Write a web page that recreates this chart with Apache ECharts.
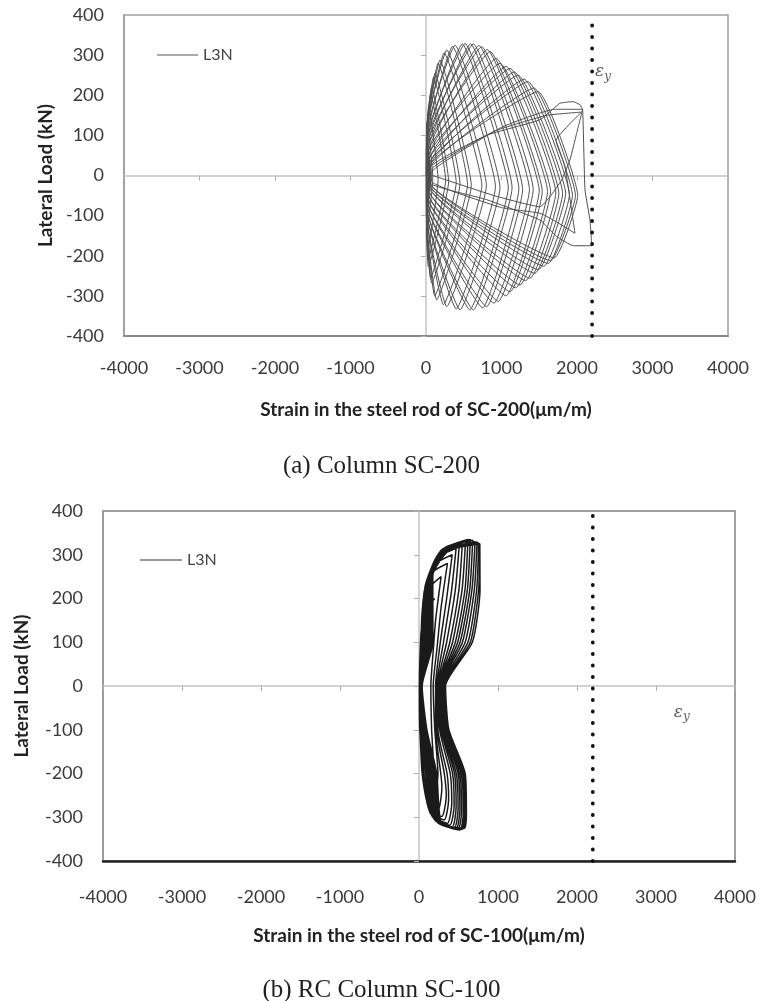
<!DOCTYPE html>
<html>
<head>
<meta charset="utf-8">
<script src="https://cdn.jsdelivr.net/npm/echarts@6/dist/echarts.min.js"></script>
<style>
html,body{margin:0;padding:0;background:#fff;}
#chart{width:763px;height:1001px;}
</style>
</head>
<body>
<div id="chart"></div>
<script>
// ---------- data ----------
const xTicks = [-4000, 4000, 1000];      // min, max, interval (strain, µm/m)
const yTicks = [-400, 400, 100];         // min, max, interval (kN)
const yieldStrain = [2200, 2200];        // εy vertical line (µm/m)
const yieldLoad = [-400, 400];

// SC-200 : [strain (µm/m), lateral load (kN)], traced cycle by cycle
const sc200Path = [
  [0,0],[35,175],[160,-10],[25,-185],[5,-90],[5,90],
  [20,130],[90,-5],[15,-140],[3,-60],[3,60],
  [75,221],[300,-15],[31,-227],[8,-110],[8,110],
  [60,205],[260,-12],[25,-210],[6,-100],[6,100],
  [119,255],[450,-20],[75,-268],[10,-120],[10,120],
  [100,245],[400,-18],[60,-255],[9,-115],[9,115],
  [185,288],[600,-25],[141,-310],[12,-120],[12,120],
  [160,280],[550,-22],[115,-300],[11,-120],[11,120],
  [274,313],[800,-25],[274,-327],[15,-110],[15,110],
  [240,306],[740,-25],[230,-322],[14,-110],[14,110],
  [384,325],[980,-30],[450,-335],[18,-100],[18,100],
  [350,322],[920,-28],[400,-333],[17,-100],[17,100],
  [517,329],[1140,-30],[627,-335],[20,-90],[20,90],
  [480,328],[1090,-30],[580,-335],[20,-90],[20,90],
  [627,328],[1280,-35],[803,-327],[25,-80],[25,80],
  [590,328],[1230,-33],[750,-330],[24,-80],[24,80],
  [737,321],[1420,-35],[957,-314],[30,-70],[30,70],
  [700,324],[1370,-35],[900,-318],[28,-70],[28,70],
  [848,309],[1540,-40],[1113,-290],[35,-60],[35,60],
  [810,314],[1500,-38],[1060,-300],[33,-60],[33,60],
  [980,280],[1650,-40],[1245,-273],[40,-50],[40,50],
  [930,292],[1610,-40],[1190,-280],[38,-50],[38,50],
  [1113,267],[1760,-45],[1377,-256],[45,-40],[45,40],
  [1060,272],[1720,-43],[1320,-262],[43,-40],[43,40],
  [1219,250],[1850,-45],[1488,-235],[50,-30],[50,30],
  [1170,258],[1810,-45],[1440,-244],[48,-30],[48,30],
  [1351,234],[1940,-50],[1620,-219],[55,-25],[55,25],
  [1300,240],[1900,-48],[1560,-226],[53,-25],[53,25],
  [1483,209],[2010,-50],[1700,-205],[60,-20],[60,20],
  [1430,218],[1980,-50],[1650,-212],[58,-20],[58,20],
  [800,100],[1510,139],[1775,180],[1950,184],[2040,176],[2075,163],
  [2106,-36],[2172,-111],[2195,-175],[1950,-175],[1731,-152],[1510,-111],[800,-60],[65,-20],[70,15],
  [900,110],[1600,150],[2060,158],[1722,87],[1841,22],[1973,-144],[1687,-111],[1510,-94],[1000,-80],[75,-15],[80,10],
  [1000,120],[1700,165],[2075,165],[1995,105],[1907,39],[1797,-11],[1642,-53],[1510,-78],[900,-50],[90,0]
];

// SC-100 : [strain (µm/m), lateral load (kN)], traced cycle by cycle
const sc100Path = [
  [200,200],[90,175],[30,130],[15,80],[5,0],[10,-100],[60,-180],[150,-210],[180,-170],[160,-100],[150,0],[180,80],[210,150],
  [280,250],[130,225],[45,180],[25,100],[8,0],[12,-100],[50,-200],[200,-250],[240,-200],[200,-100],[180,0],[230,90],[280,180],
  [360,280],[170,260],[55,200],[30,100],[10,0],[15,-100],[40,-200],[110,-270],[240,-285],[290,-230],[210,-100],[210,0],[270,100],[350,200],
  [420,300],[200,278],[65,215],[40,100],[12,0],[18,-100],[50,-200],[125,-282],[290,-298],[345,-250],[320,-200],[225,-100],[225,0],[310,100],[410,215],
  [470,315],[220,292],[75,225],[55,100],[14,0],[25,-100],[65,-200],[140,-290],[320,-306],[375,-258],[355,-200],[240,-100],[238,0],[350,100],[460,220],
  [510,322],[240,300],[85,230],[65,100],[16,0],[35,-100],[85,-200],[160,-296],[360,-314],[415,-266],[395,-200],[262,-100],[250,0],[390,100],[505,220],
  [550,328],[260,305],[95,235],[80,100],[18,0],[42,-100],[100,-200],[175,-300],[390,-318],[445,-272],[425,-200],[278,-100],[258,0],[425,100],[545,220],
  [590,333],[280,310],[105,237],[92,100],[20,0],[50,-100],[115,-200],[190,-304],[420,-322],[470,-276],[450,-200],[292,-100],[266,0],[460,100],[582,220],
  [620,335],[295,312],[115,240],[102,100],[23,0],[56,-100],[128,-200],[200,-306],[445,-325],[495,-280],[472,-200],[305,-100],[274,0],[490,100],[612,220],
  [650,335],[310,314],[125,242],[112,100],[26,0],[62,-100],[142,-200],[212,-308],[468,-327],[518,-283],[495,-200],[318,-100],[282,0],[520,100],[642,220],
  [680,333],[325,314],[135,244],[122,100],[28,0],[68,-100],[156,-200],[225,-310],[490,-328],[540,-286],[515,-200],[330,-100],[290,0],[550,100],[670,220],
  [710,330],[340,312],[145,246],[135,100],[31,0],[76,-100],[172,-200],[240,-311],[515,-329],[562,-289],[535,-200],[342,-100],[300,0],[585,100],[700,220],
  [735,329],[355,311],[155,248],[148,100],[34,0],[84,-100],[190,-200],[255,-312],[535,-328],[580,-290],[555,-200],[354,-100],[312,0],[620,100],[730,220],
  [755,327],[365,310],[165,250],[162,100],[37,0],[92,-100],[208,-200],[270,-313],[555,-327],[592,-290],[572,-200],[366,-100],[324,0],[650,100],[755,220],
  [770,325],[375,309],[175,252],[176,100],[40,0],[100,-100],[225,-200],[285,-314],[575,-325],[600,-290],[585,-200],[378,-100],[336,0],[675,100],[772,220],[770,325]
];

const seriesName = 'L3N';
const xTitles = ['Strain in the steel rod of SC-200(\u03bcm/m)', 'Strain in the steel rod of SC-100(\u03bcm/m)'];
const yTitle = 'Lateral Load (kN)';
const captions = ['(a) Column SC-200', '(b) RC Column SC-100'];
const yieldText = ['{e|\u03b5}{s|y}'];
const yieldLabelLoad = [258, -60];

// ---------- chart ----------
const chart = echarts.init(document.getElementById('chart'), null, {renderer: 'canvas'});
const tickFont = {fontFamily: 'Lato', fontSize: 18, color: '#3a3a3a'};
const titleFont = {fontFamily: 'Lato', fontWeight: 'bold', fontSize: 19, color: '#222'};
const plain = v => String(v);

function xAxes(g, labelMargin, nameGap, bottomColor, bottomWidth) {
  return [
    {gridIndex: g, type: 'value', min: xTicks[0], max: xTicks[1], interval: xTicks[2], position: 'bottom',
     axisLine: {show: true, onZero: false, lineStyle: {color: bottomColor, width: bottomWidth}},
     axisTick: {show: false}, splitLine: {show: false},
     axisLabel: Object.assign({margin: labelMargin, formatter: plain}, tickFont),
     name: xTitles[g], nameLocation: 'middle', nameGap: nameGap, nameTextStyle: titleFont},
    {gridIndex: g, type: 'value', min: xTicks[0], max: xTicks[1], interval: xTicks[2], position: 'bottom',
     axisLine: {show: true, onZero: true, lineStyle: {color: '#c4c4c4', width: 1.5}},
     axisTick: {show: true, inside: false, length: 5, lineStyle: {color: '#b0b0b0', width: 1}},
     axisLabel: {show: false}, splitLine: {show: false}}
  ];
}
function yAxes(g, nameGap) {
  return [
    {gridIndex: g, type: 'value', min: yTicks[0], max: yTicks[1], interval: yTicks[2], position: 'left',
     axisLine: {show: true, onZero: false, lineStyle: {color: '#9a9a9a', width: 1.5}},
     axisTick: {show: false}, splitLine: {show: false},
     axisLabel: Object.assign({margin: 20, formatter: plain}, tickFont),
     name: yTitle, nameLocation: 'middle', nameGap: nameGap, nameRotate: 90, nameTextStyle: titleFont},
    {gridIndex: g, type: 'value', min: yTicks[0], max: yTicks[1], interval: yTicks[2], position: 'left',
     axisLine: {show: true, onZero: true, lineStyle: {color: '#c4c4c4', width: 1.5}},
     axisTick: {show: true, inside: false, length: 5, lineStyle: {color: '#b0b0b0', width: 1}},
     axisLabel: {show: false}, splitLine: {show: false}}
  ];
}

const yieldRich = {
  e: {fontFamily: 'DejaVu Serif', fontStyle: 'italic', fontSize: 17, color: '#333'},
  s: {fontFamily: 'DejaVu Serif', fontStyle: 'italic', fontSize: 12, color: '#333', padding: [10, 0, 0, 0]}
};

function pairs(xs, ys) { return xs.map((x, i) => [x, ys[i]]); }

const option = {
  animation: false,
  backgroundColor: '#fff',
  title: [
    {text: captions[0], left: 'center', top: 449, textStyle: {fontFamily: 'Liberation Serif', fontSize: 25, fontWeight: 'normal', color: '#222'}},
    {text: captions[1], left: 'center', top: 973, textStyle: {fontFamily: 'Liberation Serif', fontSize: 25, fontWeight: 'normal', color: '#222'}}
  ],
  legend: [
    {data: [seriesName], left: 152, top: 42, itemWidth: 41, itemHeight: 14, icon: 'path://M0,0L40,0L40,1L0,1Z',
     itemStyle: {color: '#555'}, textStyle: {fontFamily: 'Lato', fontSize: 16, color: '#444'}, selectedMode: false},
    {data: [seriesName], left: 135, top: 547, itemWidth: 42, itemHeight: 14, icon: 'path://M0,0L40,0L40,1L0,1Z',
     itemStyle: {color: '#333'}, textStyle: {fontFamily: 'Lato', fontSize: 16, color: '#444'}, selectedMode: false}
  ],
  grid: [
    {left: 124, top: 15, width: 604, height: 321, show: true, borderColor: '#a0a0a0', borderWidth: 1.5},
    {left: 103, top: 511, width: 632, height: 350, show: true, borderColor: '#a0a0a0', borderWidth: 2}
  ],
  xAxis: [].concat(xAxes(0, 23, 64, '#8a8a8a', 2), xAxes(1, 27, 65, '#222', 2.5)),
  yAxis: [].concat(yAxes(0, 66), yAxes(1, 72)),
  series: [
    {name: seriesName, type: 'line', xAxisIndex: 0, yAxisIndex: 0, data: sc200Path, symbol: 'none', smooth: 0.12,
     lineStyle: {color: '#505050', width: 1}, z: 3, silent: true},
    {name: seriesName, type: 'line', xAxisIndex: 2, yAxisIndex: 2, data: sc100Path, symbol: 'none', smooth: 0.2,
     lineStyle: {color: '#1a1a1a', width: 1.5}, z: 3, silent: true},
    {name: 'yield-a', type: 'line', xAxisIndex: 0, yAxisIndex: 0, data: pairs(yieldStrain, yieldLoad), symbol: 'none',
     lineStyle: {color: '#111', width: 3.8, type: [0.1, 11.4], cap: 'round'}, z: 4, silent: true},
    {name: 'yield-b', type: 'line', xAxisIndex: 2, yAxisIndex: 2, data: pairs(yieldStrain, yieldLoad), symbol: 'none',
     lineStyle: {color: '#111', width: 3.8, type: [0.1, 11.4], cap: 'round'}, z: 4, silent: true},
    {name: 'ey-a', type: 'scatter', xAxisIndex: 0, yAxisIndex: 0, symbolSize: 0, silent: true,
     data: [[yieldStrain[0], yieldLabelLoad[0]]],
     label: {show: true, position: 'right', distance: 3, formatter: yieldText[0], rich: yieldRich}},
    {name: 'ey-b', type: 'scatter', xAxisIndex: 2, yAxisIndex: 2, symbolSize: 0, silent: true,
     data: [[yieldStrain[1], yieldLabelLoad[1]]],
     label: {show: true, position: 'right', distance: 81, formatter: yieldText[0], rich: yieldRich}}
  ]
};
chart.setOption(option);
</script>
</body>
</html>
